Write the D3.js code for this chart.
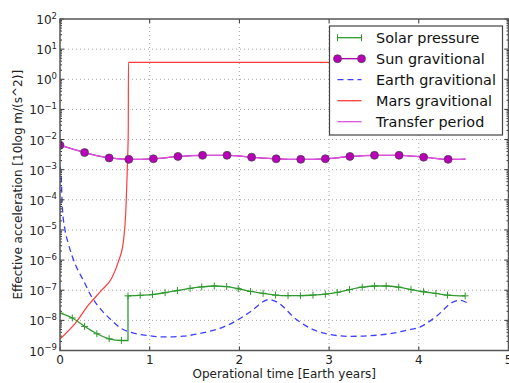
<!DOCTYPE html>
<html>
<head>
<meta charset="utf-8">
<script src="https://cdn.jsdelivr.net/npm/d3@7"></script>
<style>
body { margin: 0; background: #fff; }
svg { display: block; font-family: "DejaVu Sans", sans-serif; }
</style>
</head>
<body>
<svg id="svg" width="509" height="383"></svg>
<script>
//time in Earth years, acceleration in m/s^2

//solar pressure, before and after the jump
const SOLAR_T1 = [0, 0.137, 0.274, 0.411, 0.548, 0.685, 0.758];
const SOLAR_A1 = [1.74e-8, 1.2e-8, 6.3e-9, 3.6e-9, 2.45e-9, 2.15e-9, 2.15e-9];
const SOLAR_T2 = [0.758, 0.894, 1.031, 1.172, 1.309, 1.45, 1.58, 1.72, 1.858, 1.987, 2.124, 2.264, 2.402, 2.542,
    2.68, 2.82, 2.958, 3.091, 3.228, 3.369, 3.506, 3.636, 3.776, 3.913, 4.053, 4.191, 4.32, 4.517];
const SOLAR_A2 = [6.5e-8, 6.8e-8, 7.2e-8, 8.3e-8, 9.8e-8, 1.15e-7, 1.29e-7, 1.38e-7, 1.32e-7, 1.12e-7, 9.1e-8, 7.9e-8, 6.9e-8, 6.6e-8,
    6.6e-8, 6.9e-8, 7.4e-8, 8.5e-8, 1.05e-7, 1.26e-7, 1.38e-7, 1.38e-7, 1.26e-7, 1.05e-7, 8.9e-8, 7.8e-8, 6.9e-8, 6.5e-8];

//sun gravitational (last point has no marker)
const SUN_T = [0, 0.274, 0.548, 0.767, 1.041, 1.315, 1.589, 1.862, 2.136, 2.41, 2.684, 2.958, 3.232, 3.506, 3.78, 4.054, 4.327, 4.52];
const SUN_A = [6.5e-3, 3.7e-3, 2.45e-3, 2.2e-3, 2.3e-3, 2.75e-3, 3.0e-3, 3.0e-3, 2.6e-3, 2.3e-3, 2.2e-3, 2.3e-3, 2.75e-3, 3.0e-3,
    3.0e-3, 2.6e-3, 2.2e-3, 2.25e-3];

//earth gravitational
const EARTH_T = [0, 0.011, 0.026, 0.056, 0.093, 0.167, 0.26, 0.353, 0.465, 0.576, 0.688, 0.78, 0.967, 1.152, 1.375, 1.6, 1.82,
    2.007, 2.118, 2.333, 2.416, 2.639, 2.824, 3.01, 3.233, 3.456, 3.679, 3.865, 4.013, 4.2, 4.385, 4.459, 4.534];
const EARTH_A = [1.26e-3, 7.9e-4, 5.75e-5, 1e-5, 3.55e-6, 7.6e-7, 2.14e-7, 6.0e-8, 2.14e-8, 1.0e-8, 5.25e-9, 4.07e-9, 3.16e-9,
    2.82e-9, 3.0e-9, 3.9e-9, 6.0e-9, 1.15e-8, 1.9e-8, 4.9e-8, 4.1e-8, 1.05e-8, 4.9e-9, 3.4e-9, 2.95e-9, 3.1e-9, 3.6e-9, 4.7e-9,
    6.0e-9, 1.4e-8, 4.1e-8, 4.6e-8, 3.9e-8];

//mars gravitational
const MARS_T = [0, 0.167, 0.316, 0.465, 0.576, 0.65, 0.706, 0.732, 0.752, 0.761, 0.763, 4.52];
const MARS_A = [2.4e-9, 7.8e-9, 3.2e-8, 1.0e-7, 2.5e-7, 8.7e-7, 4.0e-6, 3.5e-5, 1.6e-3, 2.0e-2, 3.66, 3.66];

const X_TICKS = [0, 1, 2, 3, 4, 5];
const Y_EXPONENTS = [-9, -8, -7, -6, -5, -4, -3, -2, -1, 0, 1, 2];
const LEGEND_NAMES = ["Solar pressure", "Sun gravitional", "Earth gravitional", "Mars gravitional", "Transfer period"];

//plot box
const LEFT = 60, RIGHT = 508.5, TOP = 19, BOTTOM = 350.5;

const GREEN = "#2f9a2f", PURPLE = "#a000a8", MAGENTA = "#de52de", BLUE = "#3d3dff", RED = "#ff3b3b";

function zip(t, a) {
    return t.map((d, i) => ({t: d, a: a[i]}));
}

var svg = d3.select("#svg");

var scaleX = d3.scaleLinear()
        .domain([0, 5])
        .range([LEFT, RIGHT]);

var scaleY = d3.scaleLog()
        .domain([1e-9, 1e2])
        .range([BOTTOM, TOP]);

//white plot area
svg.append("rect")
        .attr("x", LEFT).attr("y", TOP)
        .attr("width", RIGHT - LEFT).attr("height", BOTTOM - TOP)
        .attr("fill", "#fff");

svg.append("clipPath").attr("id", "clip")
        .append("rect")
        .attr("x", LEFT).attr("y", TOP)
        .attr("width", RIGHT - LEFT).attr("height", BOTTOM - TOP);

//grid
var grid = svg.append("g")
        .attr("stroke", "#999")
        .attr("stroke-width", 0.9)
        .attr("stroke-dasharray", "1,3");
grid.selectAll(".gx")
        .data(X_TICKS.slice(1, -1))
        .enter()
        .append("line")
        .attr("x1", d => scaleX(d)).attr("x2", d => scaleX(d))
        .attr("y1", TOP).attr("y2", BOTTOM);
grid.selectAll(".gy")
        .data(Y_EXPONENTS.slice(1, -1))
        .enter()
        .append("line")
        .attr("y1", d => scaleY(Math.pow(10, d))).attr("y2", d => scaleY(Math.pow(10, d)))
        .attr("x1", LEFT).attr("x2", RIGHT);

var line = d3.line()
        .x(d => scaleX(d.t))
        .y(d => scaleY(d.a))
        .curve(d3.curveMonotoneX);

var plot = svg.append("g").attr("clip-path", "url(#clip)").attr("fill", "none");

//earth gravitational
plot.append("path")
        .attr("d", line(zip(EARTH_T, EARTH_A)))
        .attr("stroke", BLUE)
        .attr("stroke-width", 1.3)
        .attr("stroke-dasharray", "6,4");

//mars gravitational
plot.append("path")
        .attr("d", line(zip(MARS_T, MARS_A)))
        .attr("stroke", RED)
        .attr("stroke-width", 1.2);

//solar pressure, two pieces and the jump between them
var solar1 = zip(SOLAR_T1, SOLAR_A1);
var solar2 = zip(SOLAR_T2, SOLAR_A2);
plot.append("path")
        .attr("d", line(solar1) + d3.line().x(d => scaleX(d.t)).y(d => scaleY(d.a))([solar1[solar1.length - 1], solar2[0]]).replace("M", "L") + line(solar2).replace("M", "L"))
        .attr("stroke", GREEN)
        .attr("stroke-width", 1.3);
plot.selectAll(".plus")
        .data(solar1.slice(0, -1).concat(solar2))
        .enter()
        .append("path")
        .attr("d", d => {
            var x = scaleX(d.t), y = scaleY(d.a);
            return "M" + (x - 3.5) + "," + y + "H" + (x + 3.5) + "M" + x + "," + (y - 3.5) + "V" + (y + 3.5);
        })
        .attr("stroke", GREEN)
        .attr("stroke-width", 1);

//sun gravitational, then transfer period over it
var sun = zip(SUN_T, SUN_A);
plot.append("path")
        .attr("d", line(sun))
        .attr("stroke", PURPLE)
        .attr("stroke-width", 1.3);
plot.append("path")
        .attr("d", line(sun))
        .attr("stroke", MAGENTA)
        .attr("stroke-width", 1.3);
plot.selectAll(".dot")
        .data(sun.slice(0, -1))
        .enter()
        .append("circle")
        .attr("cx", d => scaleX(d.t))
        .attr("cy", d => scaleY(d.a))
        .attr("r", 4)
        .attr("fill", "#b800b8")
        .attr("stroke", "#444")
        .attr("stroke-width", 0.7);

//ticks (inside, on all four sides)
var ticks = svg.append("g").attr("stroke", "#333").attr("stroke-width", 1);
X_TICKS.forEach(function (d) {
    ticks.append("line").attr("x1", scaleX(d)).attr("x2", scaleX(d)).attr("y1", BOTTOM).attr("y2", BOTTOM - 4);
    ticks.append("line").attr("x1", scaleX(d)).attr("x2", scaleX(d)).attr("y1", TOP).attr("y2", TOP + 4);
});
Y_EXPONENTS.forEach(function (e) {
    var y = scaleY(Math.pow(10, e));
    ticks.append("line").attr("x1", LEFT).attr("x2", LEFT + 4).attr("y1", y).attr("y2", y);
    ticks.append("line").attr("x1", RIGHT).attr("x2", RIGHT - 4).attr("y1", y).attr("y2", y);
    if (e < 2) {
        for (let m = 2; m < 10; m++) {
            var ym = scaleY(m * Math.pow(10, e));
            ticks.append("line").attr("x1", LEFT).attr("x2", LEFT + 2).attr("y1", ym).attr("y2", ym);
            ticks.append("line").attr("x1", RIGHT).attr("x2", RIGHT - 2).attr("y1", ym).attr("y2", ym);
        }
    }
});

//frame
svg.append("rect")
        .attr("x", LEFT).attr("y", TOP)
        .attr("width", RIGHT - LEFT).attr("height", BOTTOM - TOP)
        .attr("fill", "none")
        .attr("stroke", "#555")
        .attr("stroke-width", 1.5);

//tick labels (the "5" is cut by the right edge, as in the original)
svg.append("g")
        .selectAll("text")
        .data(X_TICKS)
        .enter()
        .append("text")
        .attr("x", d => scaleX(d))
        .attr("y", 364)
        .attr("text-anchor", "middle")
        .attr("font-size", 12)
        .attr("fill", "#222")
        .text(d => d);

var yLabels = svg.append("g")
        .selectAll("text")
        .data(Y_EXPONENTS)
        .enter()
        .append("text")
        .attr("x", 57)
        .attr("y", d => scaleY(Math.pow(10, d)) + 5)
        .attr("text-anchor", "end")
        .attr("font-size", 12)
        .attr("fill", "#222");
yLabels.append("tspan").text("10");
yLabels.append("tspan")
        .attr("dy", -5.5)
        .attr("font-size", 8.5)
        .text(d => String(d).replace("-", "\u2212"));

//axis titles
svg.append("text")
        .attr("x", (LEFT + RIGHT) / 2)
        .attr("y", 378)
        .attr("text-anchor", "middle")
        .attr("font-size", 12)
        .attr("fill", "#222")
        .text("Operational time [Earth years]");

svg.append("text")
        .attr("transform", "translate(22," + (TOP + BOTTOM) / 2 + ") rotate(-90)")
        .attr("text-anchor", "middle")
        .attr("font-size", 12)
        .attr("fill", "#222")
        .text("Effective acceleration [10log m/(s^2)]");

//legend
var legend = svg.append("g");
legend.append("rect")
        .attr("x", 329.5).attr("y", 26)
        .attr("width", 173).attr("height", 109)
        .attr("fill", "#fff")
        .attr("stroke", "#444")
        .attr("stroke-width", 1.2);

var rows = legend.selectAll(".row")
        .data(LEGEND_NAMES)
        .enter()
        .append("g")
        .attr("transform", (d, i) => "translate(0," + (37.7 + i * 21) + ")");

rows.append("text")
        .attr("x", 376)
        .attr("y", 5)
        .attr("font-size", 14.4)
        .attr("fill", "#111")
        .text(d => d);

var colors = [GREEN, PURPLE, BLUE, RED, MAGENTA];
rows.append("line")
        .attr("x1", 337.5).attr("x2", 361.5)
        .attr("y1", 0).attr("y2", 0)
        .attr("stroke", (d, i) => colors[i])
        .attr("stroke-width", 1.3)
        .attr("stroke-dasharray", (d, i) => i === 2 ? "6,4" : null);

//legend markers
[337.5, 361.5].forEach(function (x) {
    legend.append("path")
            .attr("d", "M" + x + "," + (37.7 - 3.5) + "V" + (37.7 + 3.5))
            .attr("stroke", GREEN);
    legend.append("circle")
            .attr("cx", x).attr("cy", 58.7).attr("r", 4)
            .attr("fill", "#b800b8")
            .attr("stroke", "#444")
            .attr("stroke-width", 0.7);
});
</script>
</body>
</html>
